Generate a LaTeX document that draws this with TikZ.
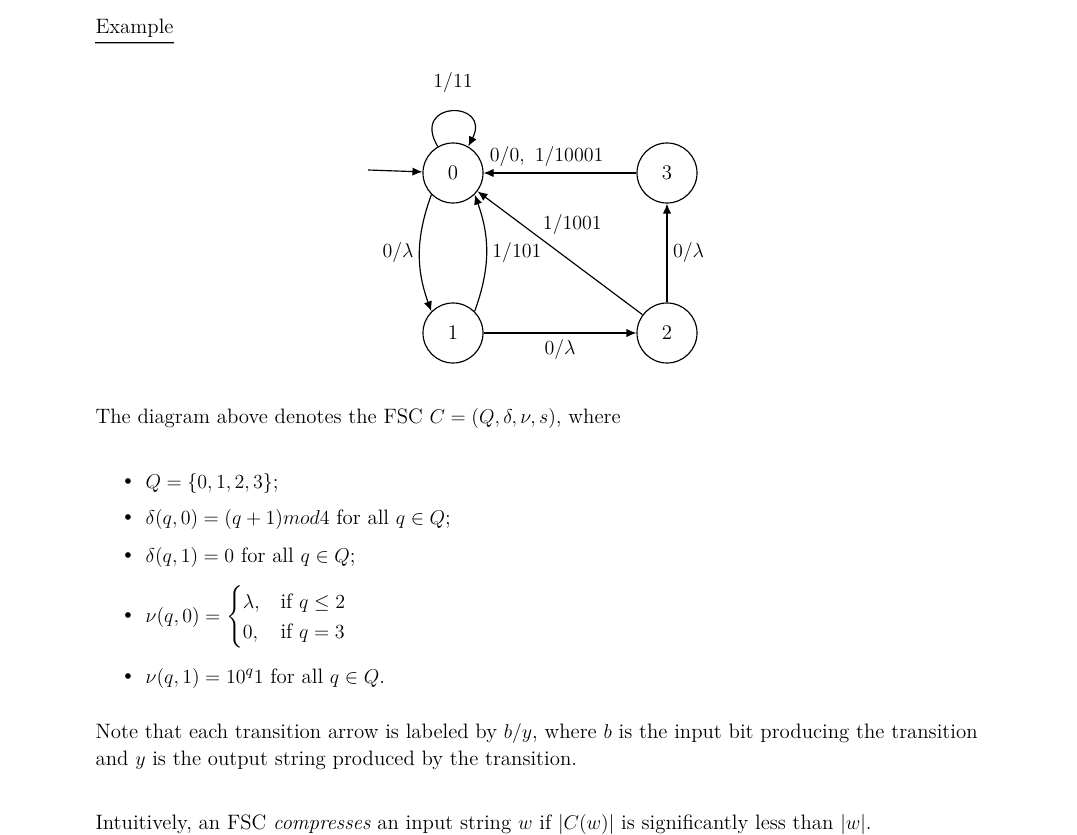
\documentclass[tikz,border=0pt]{standalone}
\usepackage{amsmath,amssymb}
\usetikzlibrary{arrows.meta}
\begin{document}
\begin{tikzpicture}[x=0.6pt,y=-0.6pt,font=\fontsize{12.5}{15}\selectfont,line width=0.7pt,
  st/.style={circle,draw,minimum size=36pt,inner sep=0pt},
  tr/.style={-{Latex[length=6pt,width=5pt]}},
  txt/.style={anchor=west,inner sep=0pt},
  bl/.style={inner sep=0pt}]
\useasboundingbox (0,0) rectangle (1077,835);
\node[st] (q0) at (453,173) {0};
\node[st] (q1) at (453,333) {1};
\node[st] (q2) at (667,333) {2};
\node[st] (q3) at (667,173) {3};
\coordinate (in) at (368,170);
\draw[tr] (in) -- (q0);
\draw[tr] (q0.120) .. controls (410,100) and (492,100) .. (q0.60);
\node (lp) at (453,83) {$1/11$};
\draw[tr] (q3) -- node[above,xshift=-8pt] {$0/0,\ 1/10001$} (q0);
\draw[tr] (q0.south west) to[bend right=20] node[left] {$0/\lambda$} (q1.north west);
\draw[tr] (q1.north east) to[bend right=20] node[right] {$1/101$} (q0.south east);
\draw[tr] (q2) -- node[above right,pos=0.6,xshift=-4pt] {$1/1001$} (q0);
\draw[tr] (q1) -- node[below] {$0/\lambda$} (q2);
\draw[tr] (q2) -- node[right] {$0/\lambda$} (q3);
\node[txt] (ex) at (95,28) {Example};
\draw (ex.south west) ++(0,5) -- ([yshift=-3pt]ex.south east);
\node[txt] (t1) at (95,418) {The diagram above denotes the FSC $C=(Q,\delta,\nu,s)$, where};
\foreach \y/\n in {483/a,519/b,557/c,617/d,678/e} \node[bl] (b\n) at (128,\y) {\textbullet};
\node[txt] (i1) at (145,483) {$Q=\{0,1,2,3\}$;};
\node[txt] (i2) at (145,519) {$\delta(q,0)=(q+1)mod4$ for all $q\in Q$;};
\node[txt] (i3) at (145,557) {$\delta(q,1)=0$ for all $q\in Q$;};
\node[txt] (i4) at (145,617) {$\nu(q,0)=\begin{cases}\lambda, & \text{if } q\le 2\\ 0, & \text{if } q=3\end{cases}$};
\node[txt] (i5) at (145,678) {$\nu(q,1)=10^q1$ for all $q\in Q$.};
\node[txt] (n1) at (95,733) {Note that each transition arrow is labeled by $b/y$, where $b$ is the input bit producing the transition};
\node[txt] (n2) at (95,760) {and $y$ is the output string produced by the transition.};
\node[txt] (n3) at (95,824) {Intuitively, an FSC \emph{compresses} an input string $w$ if $|C(w)|$ is significantly less than $|w|$.};
\end{tikzpicture}
\end{document}
